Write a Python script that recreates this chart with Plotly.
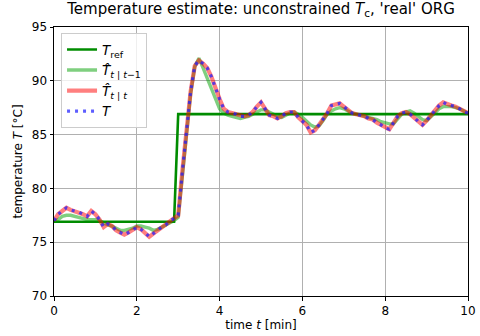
import numpy as np
import plotly.graph_objects as go

# sample times [min], sampling period 0.1 min
t = np.round(np.arange(0, 10.0001, 0.1), 2)

# reference temperature [°C]
T_ref = [76.9] * 30 + [86.9] * 71

# one-step-ahead prediction  T̂(t|t-1)
T_pred = [
    76.9, 77.1, 77.4, 77.5, 77.5, 77.4, 77.3, 77.2, 77.1, 77.1,
    77.1, 77.0, 76.8, 76.6, 76.5, 76.3, 76.1, 76.1, 76.2, 76.3,
    76.5, 76.5, 76.4, 76.3, 76.1, 76.2, 76.4, 76.6, 76.8, 77.0,
    77.3, 81.4, 85.3, 88.8, 91.3, 92.1, 91.2, 90.2, 89.2, 88.2,
    87.4, 87.0, 86.8, 86.7, 86.6, 86.5, 86.6, 86.7, 86.9, 87.1,
    87.3, 87.3, 87.1, 86.9, 86.7, 86.6, 86.8, 87.0, 87.1, 86.9,
    86.6, 86.2, 85.9, 85.7, 85.8, 86.3, 86.9, 87.2, 87.4, 87.5,
    87.4, 87.2, 87.0, 86.9, 86.8, 86.7, 86.6, 86.5, 86.4, 86.2,
    86.1, 86.0, 86.0, 86.5, 86.9, 87.1, 87.2, 87.0, 86.7, 86.4,
    86.3, 86.6, 87.0, 87.4, 87.6, 87.6, 87.6, 87.5, 87.4, 87.2,
    87.0,
]

# filtered estimate  T̂(t|t)
T_filt = [
    77.0, 77.6, 77.9, 78.2, 78.0, 77.9, 77.8, 77.6, 77.4, 77.9,
    77.6, 77.1, 76.4, 76.7, 76.5, 76.1, 75.9, 75.7, 75.9, 76.1,
    76.4, 76.2, 75.9, 75.5, 75.8, 76.1, 76.4, 76.6, 77.0, 77.2,
    77.5, 81.6, 85.5, 89.0, 91.4, 91.9, 91.6, 91.2, 90.4, 89.3,
    88.3, 87.4, 87.1, 87.0, 86.9, 86.7, 86.7, 86.8, 87.1, 87.6,
    88.0, 87.4, 86.8, 86.7, 86.5, 86.7, 87.0, 87.1, 87.1, 86.6,
    86.2, 85.9, 85.2, 85.4, 85.9, 86.4, 87.0, 87.7, 87.8, 87.9,
    87.6, 87.3, 87.0, 86.9, 86.8, 86.7, 86.5, 86.4, 86.1, 85.9,
    85.6, 85.5, 86.1, 86.7, 87.0, 87.1, 86.9, 86.6, 86.2, 85.9,
    86.3, 86.8, 87.3, 87.7, 88.0, 87.8, 87.7, 87.6, 87.4, 87.1,
    87.0,
]

# true temperature T
T_true = [
    77.0, 77.6, 77.9, 78.2, 78.0, 77.9, 77.8, 77.6, 77.4, 77.9,
    77.6, 77.1, 76.4, 76.7, 76.5, 76.1, 75.9, 75.7, 75.9, 76.1,
    76.4, 76.2, 75.9, 75.5, 75.8, 76.1, 76.4, 76.6, 77.0, 77.2,
    77.5, 81.6, 85.5, 89.0, 91.4, 91.9, 91.6, 91.2, 90.4, 89.3,
    88.3, 87.4, 87.1, 87.0, 86.9, 86.7, 86.7, 86.8, 87.1, 87.6,
    88.0, 87.4, 86.8, 86.7, 86.5, 86.7, 87.0, 87.1, 87.1, 86.6,
    86.2, 85.9, 85.2, 85.4, 85.9, 86.4, 87.0, 87.7, 87.8, 87.9,
    87.6, 87.3, 87.0, 86.9, 86.8, 86.7, 86.5, 86.4, 86.1, 85.9,
    85.6, 85.5, 86.1, 86.7, 87.0, 87.1, 86.9, 86.6, 86.2, 85.9,
    86.3, 86.8, 87.3, 87.7, 88.0, 87.8, 87.7, 87.6, 87.4, 87.1,
    87.0,
]

x_ticks = [0, 2, 4, 6, 8, 10]
y_ticks = [70, 75, 80, 85, 90, 95]

FONT = "DejaVu Sans"
HAT_T = "<i>T\u0302</i>"

fig = go.Figure()
fig.add_trace(go.Scatter(
    x=t, y=T_ref, mode="lines", name="<i>T</i><sub>ref</sub>",
    line=dict(color="rgb(0,140,0)", width=2.6),
))
fig.add_trace(go.Scatter(
    x=t, y=T_pred, mode="lines",
    name=HAT_T + "<sub><i>t</i> | <i>t</i>\u22121</sub>",
    line=dict(color="rgba(0,160,0,0.5)", width=3.4),
))
fig.add_trace(go.Scatter(
    x=t, y=T_filt, mode="lines",
    name=HAT_T + "<sub><i>t</i> | <i>t</i></sub>",
    line=dict(color="rgba(255,0,0,0.5)", width=4.2),
))
fig.add_trace(go.Scatter(
    x=t, y=T_true, mode="lines", name="<i>T</i>",
    line=dict(color="rgba(30,30,255,0.72)", width=3.2, dash="3px,5px"),
))

axis_common = dict(
    showline=True, linecolor="black", linewidth=1, mirror=True,
    ticks="outside", ticklen=3.5, tickwidth=0.8, tickcolor="black",
    showgrid=True, gridcolor="#b0b0b0", gridwidth=0.8,
    zeroline=False, automargin=False,
    tickfont=dict(family=FONT, size=12, color="black"),
)

fig.update_layout(
    width=480, height=336,
    margin=dict(l=54, r=12, t=27, b=40),
    paper_bgcolor="white", plot_bgcolor="white",
    font=dict(family=FONT, color="black"),
    title=dict(
        text="Temperature estimate: unconstrained <i>T</i><sub>c</sub>, 'real' ORG",
        x=0.5, xref="paper", xanchor="center",
        y=1, yref="container", yanchor="top", pad=dict(t=3),
        font=dict(family=FONT, size=15, color="black"),
    ),
    xaxis=dict(
        range=[0, 10], tickvals=x_ticks,
        title=dict(text="time <i>t</i> [min]", font=dict(family=FONT, size=12), standoff=3),
        **axis_common,
    ),
    yaxis=dict(
        range=[70, 95], tickvals=y_ticks,
        title=dict(text="temperature <i>T</i> [°C]", font=dict(family=FONT, size=12), standoff=6),
        **axis_common,
    ),
    legend=dict(
        x=0.017, y=0.977, xanchor="left", yanchor="top",
        bgcolor="rgba(255,255,255,0.8)", bordercolor="#cccccc", borderwidth=1,
        font=dict(family=FONT, size=13.5), tracegroupgap=0, itemwidth=30,
    ),
    showlegend=True,
)

fig.write_html("out.html")
